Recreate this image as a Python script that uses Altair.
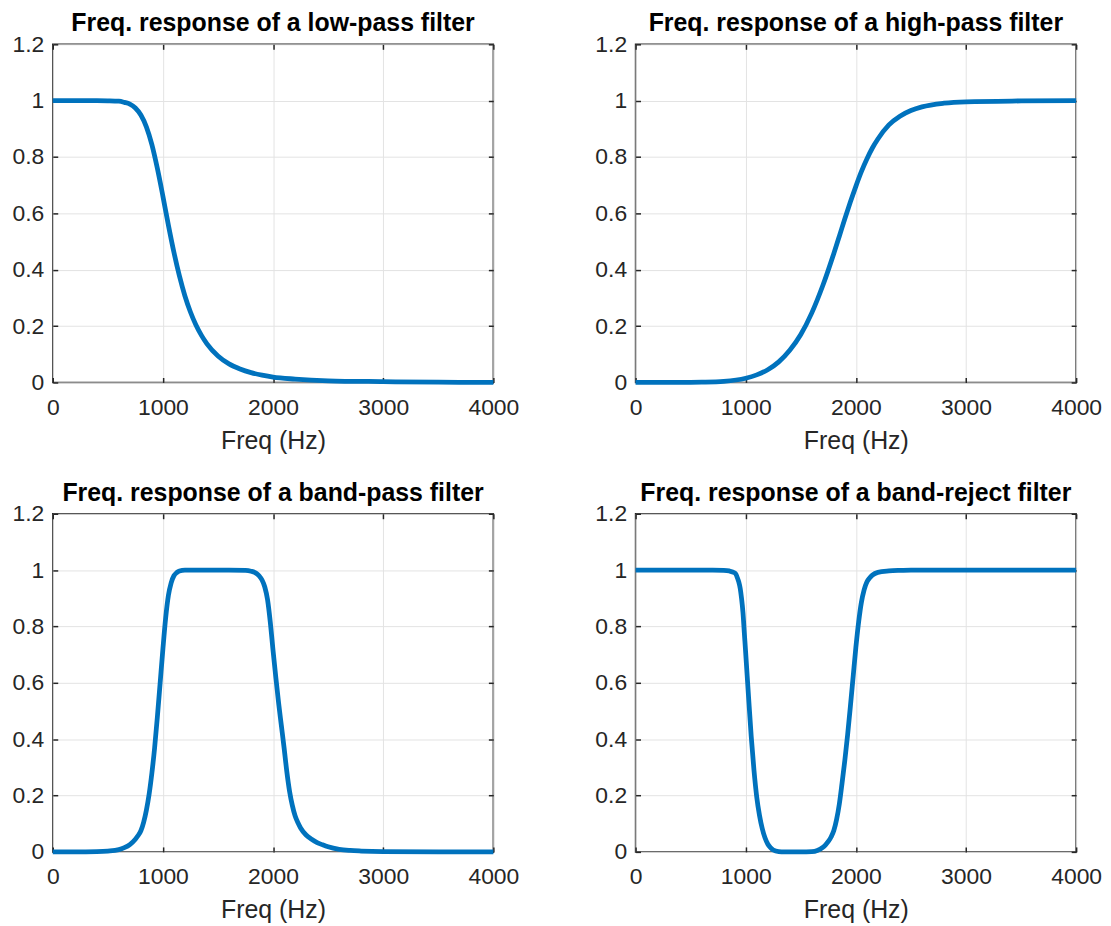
import altair as alt
import pandas as pd

# ---- data ----
lp_freq = [0, 200, 400, 500, 600, 650, 700, 750, 800, 850, 900, 950, 1000, 1050, 1100, 1150,
           1200, 1250, 1300, 1350, 1400, 1500, 1600, 1700, 1800, 1900, 2000, 2200, 2500, 3000, 3500, 4000]
lp_mag = [1.0, 1.0, 1.0, 0.9995, 0.998, 0.994, 0.988, 0.974, 0.949, 0.907, 0.844, 0.759, 0.661, 0.558,
          0.462, 0.378, 0.307, 0.25, 0.204, 0.167, 0.137, 0.094, 0.066, 0.048, 0.035, 0.026, 0.019,
          0.012, 0.006, 0.003, 0.001, 0.0]

hp_freq = [0, 400, 600, 800, 1000, 1100, 1200, 1300, 1400, 1500, 1600, 1700, 1800, 1850, 1900, 1950,
           2000, 2050, 2100, 2150, 2200, 2300, 2400, 2500, 2600, 2800, 3000, 3500, 4000]
hp_mag = [0.0, 0.0, 0.001, 0.004, 0.015, 0.027, 0.045, 0.073, 0.114, 0.170, 0.247, 0.344, 0.458, 0.519,
          0.581, 0.640, 0.696, 0.748, 0.793, 0.832, 0.864, 0.914, 0.945, 0.965, 0.978, 0.991, 0.996,
          0.999, 1.0]

bp_freq = [0, 200, 400, 500, 600, 650, 700, 750, 775, 800, 825, 850, 875, 900, 925, 950, 975, 1000,
           1025, 1050, 1075, 1100, 1125, 1150, 1200, 1400, 1600, 1750, 1800, 1850, 1875, 1900, 1925,
           1950, 1975, 2000, 2025, 2050, 2075, 2100, 2125, 2150, 2175, 2200, 2225, 2250, 2300, 2350,
           2400, 2450, 2500, 2600, 2700, 2800, 3000, 3500, 4000]
bp_mag = [0.0, 0.0, 0.001, 0.003, 0.008, 0.015, 0.026, 0.045, 0.058, 0.075, 0.105, 0.148, 0.205, 0.28,
          0.37, 0.48, 0.6, 0.72, 0.83, 0.91, 0.955, 0.98, 0.991, 0.997, 1.0, 1.0, 1.0, 0.999, 0.996,
          0.988, 0.979, 0.965, 0.94, 0.895, 0.815, 0.715, 0.62, 0.53, 0.45, 0.37, 0.285, 0.215, 0.165,
          0.128, 0.104, 0.085, 0.06, 0.045, 0.033, 0.025, 0.018, 0.009, 0.005, 0.003, 0.001, 0.0, 0.0]

br_freq = [0, 500, 700, 800, 850, 900, 912, 925, 937, 950, 962, 975, 987, 1000, 1025, 1050, 1075, 1100,
           1125, 1150, 1175, 1200, 1225, 1250, 1300, 1350, 1500, 1600, 1650, 1700, 1725, 1750, 1775,
           1800, 1825, 1850, 1875, 1900, 1925, 1950, 1975, 2000, 2025, 2050, 2075, 2100, 2125, 2150,
           2200, 2300, 2400, 2500, 3000, 4000]
br_mag = [1.0, 1.0, 1.0, 0.999, 0.997, 0.99, 0.985, 0.972, 0.958, 0.935, 0.9, 0.85, 0.78, 0.705, 0.555,
          0.41, 0.29, 0.195, 0.13, 0.083, 0.05, 0.028, 0.015, 0.007, 0.001, 0.0, 0.0, 0.001, 0.005, 0.016,
          0.025, 0.037, 0.053, 0.076, 0.115, 0.17, 0.245, 0.325, 0.415, 0.515, 0.62, 0.725, 0.815, 0.885,
          0.93, 0.958, 0.972, 0.982, 0.992, 0.997, 0.999, 1.0, 1.0, 1.0]

titles = ["Freq. response of a low-pass filter", "Freq. response of a high-pass filter",
          "Freq. response of a band-pass filter", "Freq. response of a band-reject filter"]
x_ticks = [0, 1000, 2000, 3000, 4000]
y_ticks = [0, 0.2, 0.4, 0.6, 0.8, 1.0, 1.2]

FONT = "Liberation Sans"
BLUE = "#0072BD"
AXC = "#262626"
W, H = 443, 340
TK = 5


def panel(freq, mag, title):
    df = pd.DataFrame({"f": freq, "m": mag})
    xs = alt.Scale(domain=[0, 4000], nice=False, zero=False)
    ys = alt.Scale(domain=[0, 1.2], nice=False)
    main = alt.Chart(df).mark_line(color=BLUE, strokeWidth=4.8, interpolate="monotone").encode(
        x=alt.X("f:Q", scale=xs, axis=alt.Axis(orient="bottom", values=x_ticks, format="d",
                                               title="Freq (Hz)", offset=-TK, tickSize=TK,
                                               labelPadding=14, titlePadding=9, grid=True,
                                               labelFlush=False, labelOverlap=False)),
        y=alt.Y("m:Q", scale=ys, axis=alt.Axis(orient="left", values=y_ticks, format="~g",
                                               title=None, offset=-TK, tickSize=TK,
                                               labelPadding=9, grid=True,
                                               labelFlush=False, labelOverlap=False)),
    )
    mirror = alt.Chart(df).mark_line(opacity=0).encode(
        x=alt.X("f:Q", scale=xs, axis=alt.Axis(orient="top", values=x_ticks, labels=False,
                                               title=None, offset=-TK, tickSize=TK, grid=False)),
        y=alt.Y("m:Q", scale=ys, axis=alt.Axis(orient="right", values=y_ticks, labels=False,
                                               title=None, offset=-TK, tickSize=TK, grid=False)),
    )
    return alt.layer(main, mirror).resolve_axis(x="independent", y="independent").properties(
        width=W, height=H,
        title=alt.TitleParams(title, font=FONT, fontSize=25, fontWeight="bold", color="#000000",
                              offset=-3, anchor="middle"),
    )


chart = alt.concat(
    panel(lp_freq, lp_mag, titles[0]),
    panel(hp_freq, hp_mag, titles[1]),
    panel(bp_freq, bp_mag, titles[2]),
    panel(br_freq, br_mag, titles[3]),
    columns=2,
    spacing={"row": 132, "column": 143},
    bounds="flush",
).properties(
    padding={"left": 3, "top": 0, "right": 0, "bottom": 0},
    background="white",
).configure_view(
    stroke=AXC, strokeWidth=1.5
).configure_axis(
    labelFont=FONT, labelFontSize=23, labelColor=AXC,
    titleFont=FONT, titleFontSize=25, titleColor=AXC, titleFontWeight="normal",
    gridColor="#e3e3e3", gridWidth=1, tickColor=AXC, tickWidth=1.5, domain=False,
)

chart.save("out.html", embed_options={"renderer": "svg", "actions": False})
